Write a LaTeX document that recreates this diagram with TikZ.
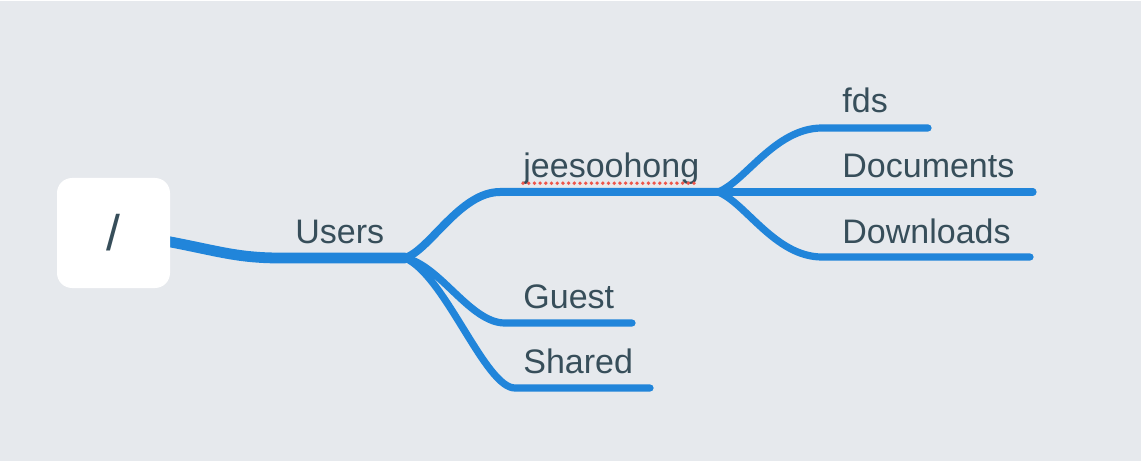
\documentclass[tikz,border=0pt]{standalone}
\usepackage{fontspec}
\setmainfont{Liberation Sans}
\usepackage{xcolor}
\usepackage{tikz}
\usetikzlibrary{calc}
\usetikzlibrary{backgrounds}
\definecolor{mapblue}{RGB}{33,133,218}
\definecolor{mapbg}{RGB}{230,233,237}
\definecolor{ink}{RGB}{55,78,90}
\definecolor{spellred}{RGB}{238,86,74}
\begin{document}
\begin{tikzpicture}[x=0.5pt,y=-0.5pt,
  branch/.style={draw=mapblue,line cap=round,line width=#1},
  branch/.default=3.6pt,
  lbl/.style={anchor=base west,inner sep=0pt,text=ink,font=\fontsize{17}{20}\selectfont}]
\fill[white] (0,0) rectangle (1142,476);
\fill[mapbg] (0,1) rectangle (1141,461);
\useasboundingbox (0,0) rectangle (1142,476);
%% junctions and branch ends
\coordinate (rootout) at (160,240);
\coordinate (usersJ) at (405,258);
\coordinate (homeJ) at (718,192);
\coordinate (guestE) at (632,323);
\coordinate (sharedE) at (650,388);
\coordinate (fdsE) at (928,128);
\coordinate (docsE) at (1033,192);
\coordinate (dlE) at (1030,257);
%% branches
\draw[branch=5.4pt] (rootout) .. controls (215,250) and (235,258) .. (280,258) -- (usersJ);
\draw[branch=4pt] (usersJ) .. controls (430,250) and (460,192) .. (500,192) -- (homeJ);
\draw[branch] (usersJ) .. controls (440,265) and (470,323) .. (505,323) -- (guestE);
\draw[branch] (usersJ) .. controls (445,275) and (485,388) .. (515,388) -- (sharedE);
\draw[branch] (homeJ) .. controls (745,182) and (775,128) .. (822,128) -- (fdsE);
\draw[branch] (homeJ) -- (docsE);
\draw[branch] (homeJ) .. controls (745,202) and (775,257) .. (822,257) -- (dlE);
%% root box
\node[fill=white,rounded corners=7.5pt,minimum width=56.5pt,minimum height=55pt,inner sep=0pt,
  text=ink,font=\fontsize{25}{28}\selectfont] (root) at (113.5,233) {/};
%% labels
\node[lbl] (users) at (295,243) {Users};
\node[lbl] (jee) at (523,178) {jeesoohong};
\foreach \n/\x/\y/\t in {guest/523/308/Guest, shared/523/373/Shared,
    fds/842/113/fds, docs/842/178/Documents, dl/842/243/Downloads}
  \node[lbl] (\n) at (\x,\y) {\t};
\draw[spellred,line width=1.9pt,line cap=round,dash pattern=on 0pt off 2.85pt]
  ([yshift=-2.6pt]jee.base west) -- ([yshift=-2.6pt]jee.base east);
\end{tikzpicture}
\end{document}
